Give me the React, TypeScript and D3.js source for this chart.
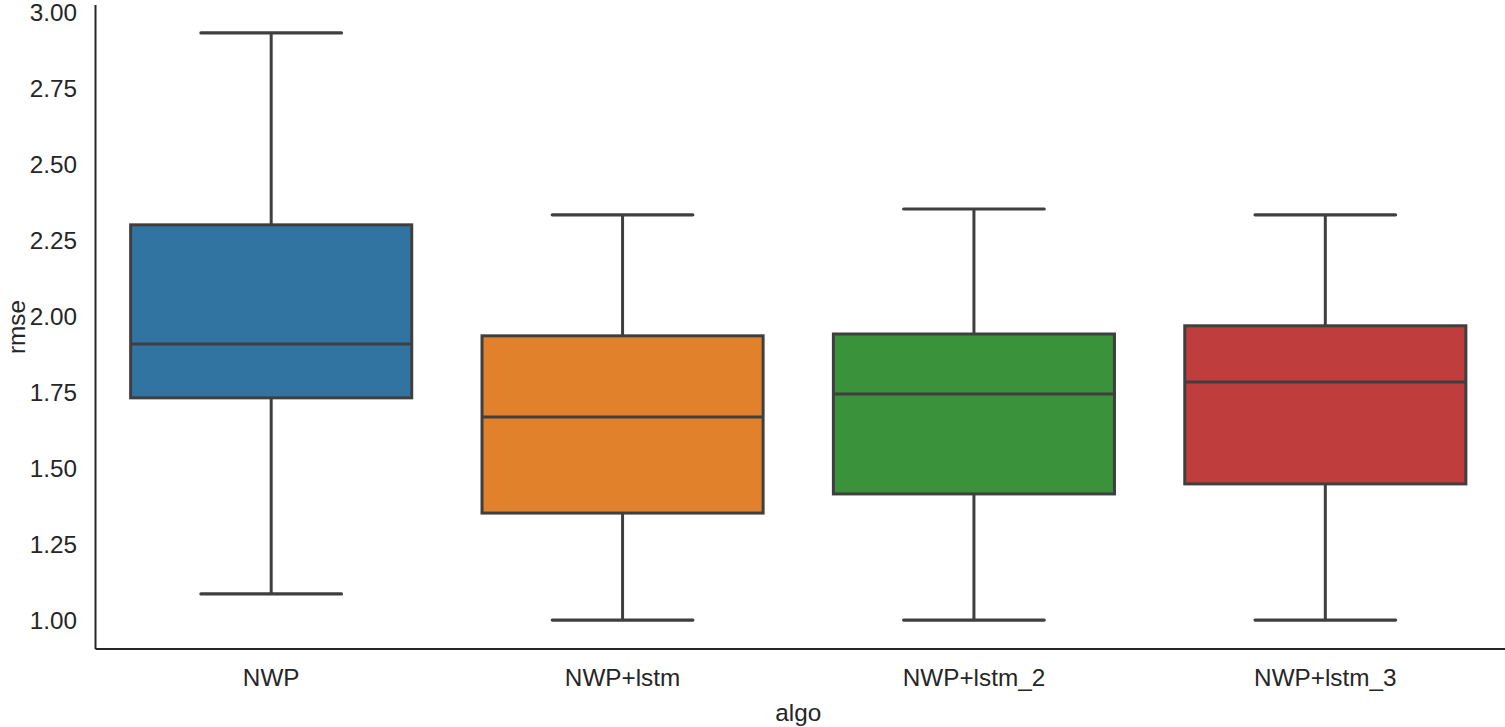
import React from "react";
import * as d3 from "d3";

const categories = ["NWP", "NWP+lstm", "NWP+lstm_2", "NWP+lstm_3"];
const whiskerLow = [1.079, 0.993, 0.993, 0.993];
const q1 = [1.724, 1.345, 1.408, 1.441];
const median = [1.901, 1.661, 1.737, 1.776];
const q3 = [2.293, 1.928, 1.934, 1.961];
const whiskerHigh = [2.924, 2.326, 2.345, 2.326];
const colors = ["#3274a1", "#e1812c", "#3a923a", "#c03d3e"];
const yTicks = [1.0, 1.25, 1.5, 1.75, 2.0, 2.25, 2.5, 2.75, 3.0];
const xLabel = "algo";
const yLabel = "rmse";

const W = 1505;
const H = 727;
const left = 95.5;
const right = 1501;
const top = 5;
const bottom = 649;

export default function App() {
  const y = d3.scaleLinear().domain([0.898, 3.016]).range([bottom, top]);
  const x = d3.scaleBand().domain(categories).range([left, right]).paddingInner(0).paddingOuter(0);
  const bw = x.bandwidth();
  const boxW = bw * 0.8;
  const capW = boxW * 0.5;
  const lineColor = "#3f3f3f";
  const font = "'Liberation Sans', Arial, sans-serif";
  const fmt = d3.format(".2f");
  const fs = 24.3;

  return (
    <svg
      width={W}
      height={H}
      style={{ position: "absolute", left: 0, top: 0, background: "#fff" }}
      fontFamily={font}
    >
      <rect x={0} y={0} width={W} height={H} fill="#fff" />
      {categories.map((c, i) => {
        const cx = (x(c) as number) + bw / 2;
        return (
          <g key={c}>
            <line x1={cx} x2={cx} y1={y(q3[i])} y2={y(whiskerHigh[i])} stroke={lineColor} strokeWidth={3} />
            <line x1={cx} x2={cx} y1={y(q1[i])} y2={y(whiskerLow[i])} stroke={lineColor} strokeWidth={3} />
            <line x1={cx - capW / 2} x2={cx + capW / 2} y1={y(whiskerHigh[i])} y2={y(whiskerHigh[i])} stroke={lineColor} strokeWidth={3.2} strokeLinecap="round" />
            <line x1={cx - capW / 2} x2={cx + capW / 2} y1={y(whiskerLow[i])} y2={y(whiskerLow[i])} stroke={lineColor} strokeWidth={3.2} strokeLinecap="round" />
            <rect
              x={cx - boxW / 2}
              y={y(q3[i])}
              width={boxW}
              height={y(q1[i]) - y(q3[i])}
              fill={colors[i]}
              stroke={lineColor}
              strokeWidth={3}
            />
            <line x1={cx - boxW / 2} x2={cx + boxW / 2} y1={y(median[i])} y2={y(median[i])} stroke={lineColor} strokeWidth={3} />
          </g>
        );
      })}
      <line x1={left} x2={left} y1={top} y2={bottom} stroke="#262626" strokeWidth={2} />
      <line x1={left} x2={W} y1={bottom} y2={bottom} stroke="#262626" strokeWidth={2} />
      {yTicks.map((t) => (
        <text key={t} x={77} y={y(t) + 2.5} textAnchor="end" dominantBaseline="central" fontSize={fs} fill="#262626">
          {fmt(t)}
        </text>
      ))}
      {categories.map((c) => (
        <text key={c} x={(x(c) as number) + bw / 2} y={677} textAnchor="middle" dominantBaseline="central" fontSize={fs} fill="#262626">
          {c}
        </text>
      ))}
      <text x={(left + right) / 2} y={712} textAnchor="middle" dominantBaseline="central" fontSize={fs} fill="#262626">
        {xLabel}
      </text>
      <text
        transform={`translate(16, ${(top + bottom) / 2}) rotate(-90)`}
        textAnchor="middle"
        dominantBaseline="central"
        fontSize={fs}
        fill="#262626"
      >
        {yLabel}
      </text>
    </svg>
  );
}
